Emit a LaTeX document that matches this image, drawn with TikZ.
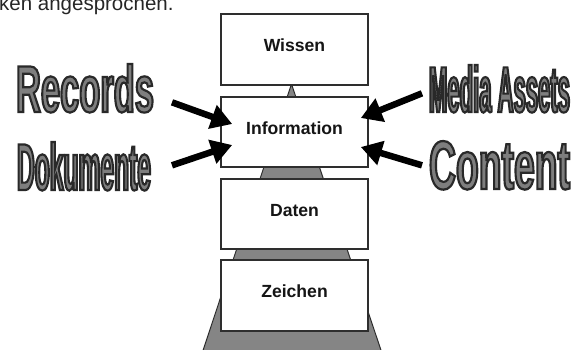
\documentclass[tikz,border=0pt]{standalone}
\usepackage{fontspec}
\setmainfont{Liberation Sans}
\usetikzlibrary{arrows.meta,calc}
\definecolor{pyrgray}{HTML}{858585}
\definecolor{edgegray}{HTML}{2E2E2E}
\definecolor{wagray}{HTML}{7E7E7E}
\definecolor{boxtext}{HTML}{151515}
\newcommand{\wordart}[4]{\resizebox{#1}{#2}{\fontspec[FakeStretch=#3]{Liberation Sans}\bfseries\fontsize{64}{64}\selectfont\color{wagray}\special{pdf:literal direct 2 Tr 2.1 w 0.16 0.16 0.16 RG}#4\special{pdf:literal direct 0 Tr}}}
\tikzset{
  layerbox/.style={draw=edgegray, line width=1.6pt, fill=white, minimum width=147pt,
    minimum height=70.5pt, inner sep=0pt, text=boxtext,
    font=\fontsize{17.6}{20}\selectfont\bfseries, text height=10pt, text depth=5.4pt},
  wabox/.style={inner sep=0pt, outer sep=0pt, anchor=north west},
  bigarrow/.style={line width=6.5pt, black, -{Triangle[length=21pt,width=24pt]}},
  pyramid/.style={fill=pyrgray, draw=edgegray, line width=1pt}
}
\begin{document}
\begin{tikzpicture}[x=1pt,y=-1pt]
\useasboundingbox (0,0) rectangle (578,349);
\clip (0,0) rectangle (578,349);
% pyramid behind the layers
\draw[pyramid] (291.5,84) -- (381.6,352) -- (202.5,352) -- cycle;
% layers
\node[layerbox] (wissen) at (294.5,49.5) {Wissen};
\node[layerbox] (info) at (294.5,132) {Information};
\node[layerbox] (daten) at (294.5,214) {Daten};
\node[layerbox] (zeichen) at (294.5,295.5) {Zeichen};
% clipped running text at the top
\node[anchor=base west, inner sep=0pt, font=\fontsize{20.5}{24}\selectfont, text=black!85] (toptext) at (-1,10.5) {ken angesprochen.};
% word-art labels
\node[wabox] (records) at (16,64) {\wordart{138pt}{48pt}{0.54}{Records}};
\node[wabox] (dokumente) at (17,142) {\wordart{134pt}{48pt}{0.39}{Dokumente}};
\node[wabox] (media) at (429,65) {\wordart{141pt}{47pt}{0.35}{Media Assets}};
\node[wabox] (content) at (429,141) {\wordart{141pt}{48pt}{0.58}{Content}};
% arrow ends
\coordinate (rectail) at ($(records.east)+(18,14)$);
\coordinate (rectip) at ($(info.west)+(12,-8)$);
\coordinate (doktail) at ($(dokumente.east)+(21,-1)$);
\coordinate (doktip) at ($(info.west)+(12,13)$);
\coordinate (medtail) at ($(media.west)+(-7,4.5)$);
\coordinate (medtip) at ($(info.east)+(-8,-14)$);
\coordinate (contail) at ($(content.west)+(-7,0)$);
\coordinate (contip) at ($(info.east)+(-8,15)$);
\draw[bigarrow] (rectail) -- (rectip);
\draw[bigarrow] (doktail) -- (doktip);
\draw[bigarrow] (medtail) -- (medtip);
\draw[bigarrow] (contail) -- (contip);
\end{tikzpicture}
\end{document}
